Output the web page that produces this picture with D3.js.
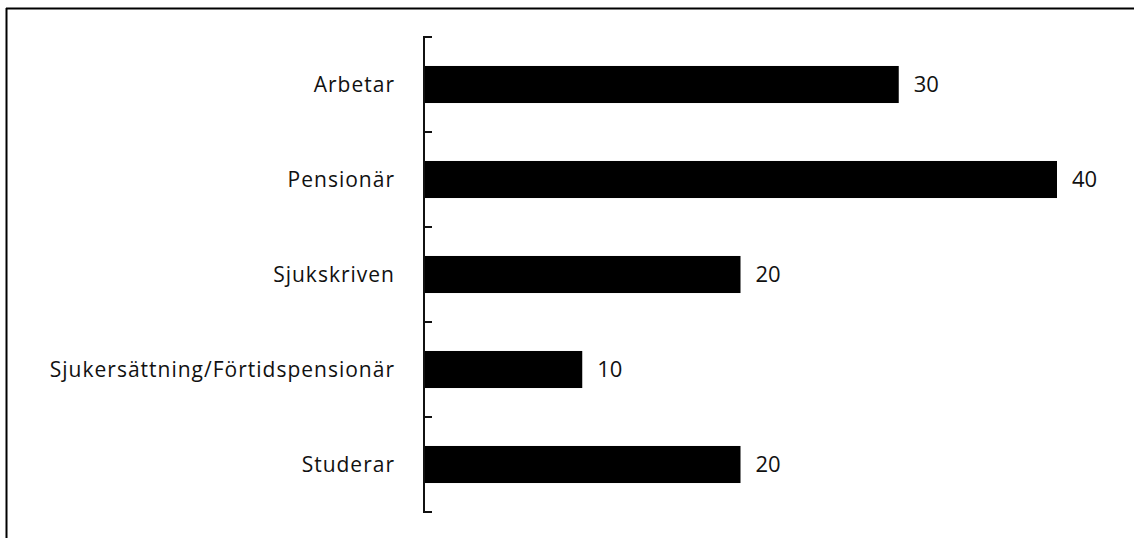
<!DOCTYPE html>
<html>
<head>
<meta charset="utf-8">
<script src="https://cdn.jsdelivr.net/npm/d3@7"></script>
<style>
  html, body { margin: 0; padding: 0; background: #fff; }
  svg { display: block; }
  text { font-family: "Open Sans", "Noto Sans", sans-serif; fill: #111; }
</style>
</head>
<body>
<svg id="chart" width="1134" height="538"></svg>
<script>
const categories = ["Arbetar", "Pensionär", "Sjukskriven", "Sjukersättning/Förtidspensionär", "Studerar"];
const values = [30, 40, 20, 10, 20];

const W = 1134, H = 538;
const svg = d3.select("#chart");

// frame (top and left edges)
svg.append("line").attr("x1", 6).attr("x2", W).attr("y1", 8.5).attr("y2", 8.5)
  .attr("stroke", "#000").attr("stroke-width", 2);
svg.append("line").attr("x1", 6.5).attr("x2", 6.5).attr("y1", 8).attr("y2", H)
  .attr("stroke", "#000").attr("stroke-width", 2);

const axisX = 424;
const y = d3.scaleBand().domain(categories).range([37, 512]).paddingInner(0.61).paddingOuter(0.305);
const x = d3.scaleLinear().domain([0, 40]).range([axisX, 1057]);

// bars
svg.selectAll("rect.bar").data(categories).join("rect")
  .attr("class", "bar")
  .attr("x", x(0))
  .attr("y", d => y(d))
  .attr("width", (d, i) => x(values[i]) - x(0))
  .attr("height", y.bandwidth())
  .attr("fill", "#000");

// axis line and boundary ticks
const step = y.step();
const y0 = y.range()[0];
svg.append("line").attr("x1", axisX).attr("x2", axisX).attr("y1", y0).attr("y2", y.range()[1])
  .attr("stroke", "#111").attr("stroke-width", 2);
const boundaries = d3.range(categories.length + 1).map(i => y0 + i * step);
svg.selectAll("line.tick").data(boundaries).join("line")
  .attr("class", "tick")
  .attr("x1", axisX - 1).attr("x2", axisX + 8)
  .attr("y1", d => d).attr("y2", d => d)
  .attr("stroke", "#111").attr("stroke-width", 2);

// category labels
svg.selectAll("text.cat").data(categories).join("text")
  .attr("class", "cat")
  .attr("x", axisX - 29)
  .attr("y", d => y(d) + y.bandwidth() / 2)
  .attr("dy", "0.36em")
  .attr("text-anchor", "end")
  .attr("font-size", 21)
  .attr("letter-spacing", 1)
  .text(d => d);

// value labels
svg.selectAll("text.val").data(categories).join("text")
  .attr("class", "val")
  .attr("x", (d, i) => x(values[i]) + 15)
  .attr("y", d => y(d) + y.bandwidth() / 2)
  .attr("dy", "0.36em")
  .attr("font-size", 22)
  .text((d, i) => values[i]);
</script>
</body>
</html>
